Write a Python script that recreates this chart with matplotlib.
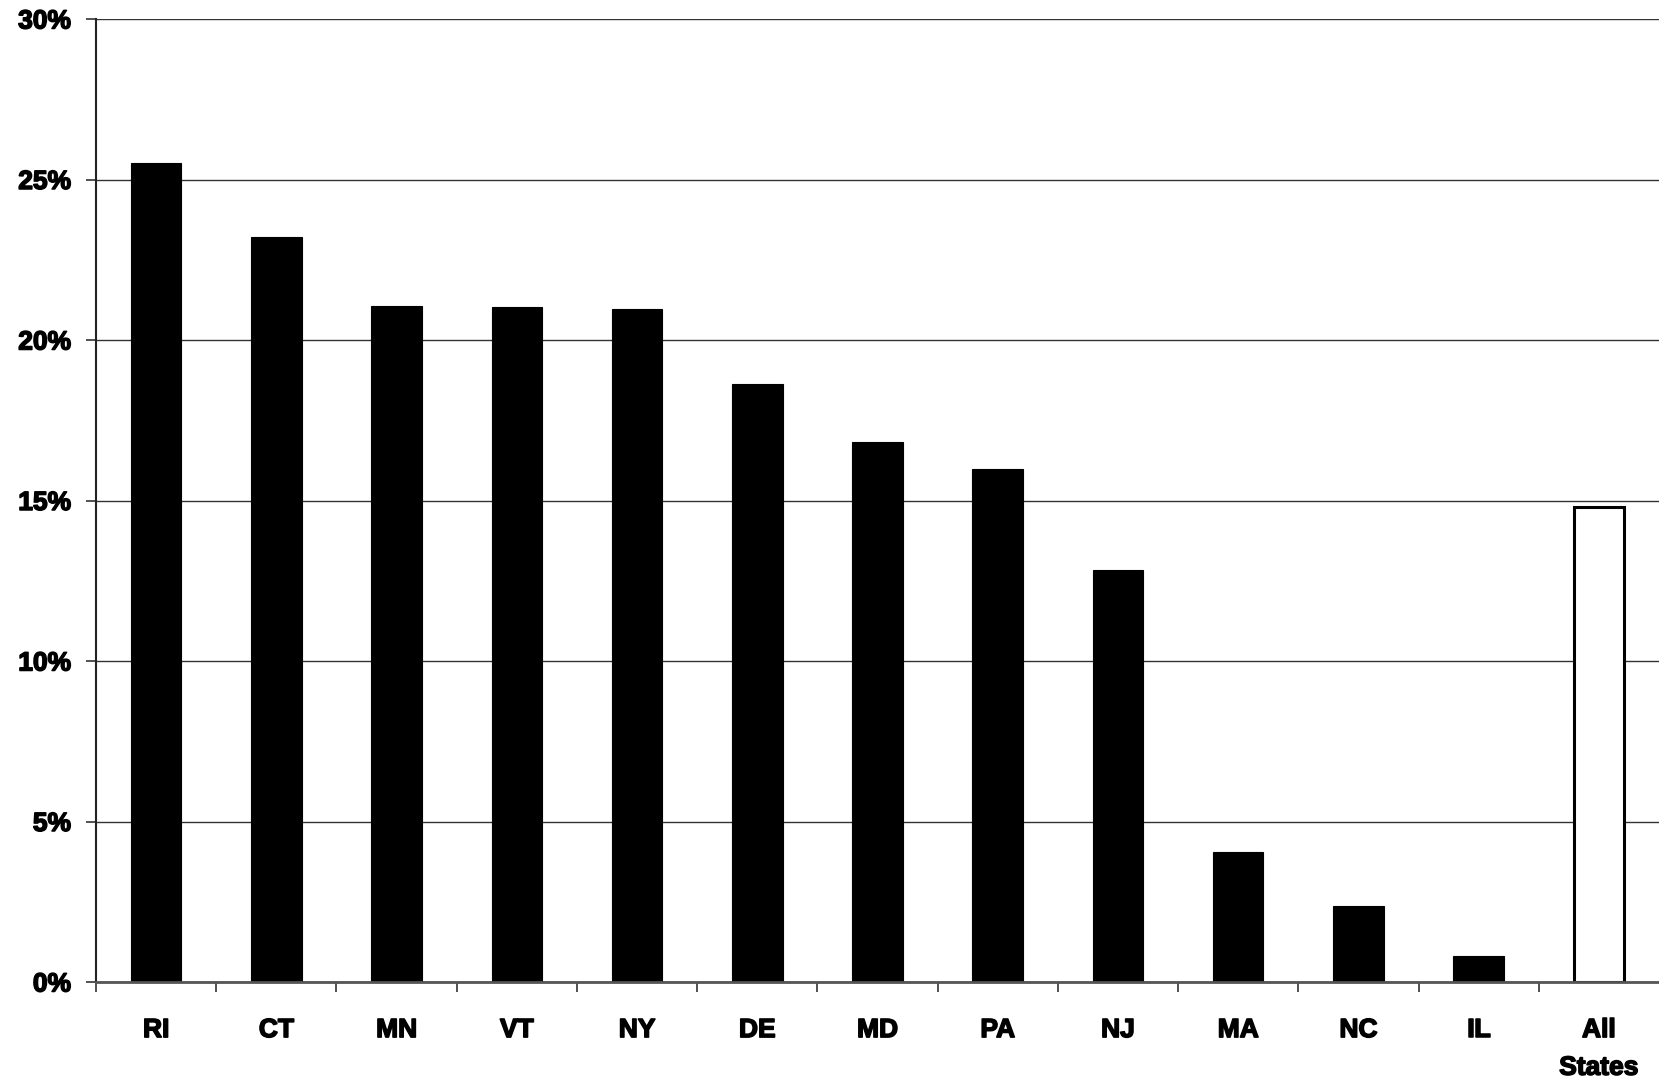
import matplotlib
matplotlib.use("Agg")
import matplotlib.pyplot as plt
import matplotlib.patheffects as pe
import numpy as np
from matplotlib.ticker import FixedLocator, PercentFormatter

categories = ["RI", "CT", "MN", "VT", "NY", "DE", "MD", "PA", "NJ", "MA", "NC", "IL", "All\nStates"]
values = [25.5, 23.2, 21.07, 21.03, 20.97, 18.63, 16.81, 15.99, 12.83, 4.06, 2.37, 0.82, 14.80]
yticks = [0, 5, 10, 15, 20, 25, 30]

plt.rcParams['font.family'] = ['Liberation Sans', 'DejaVu Sans']
FS = 19
heavy = [pe.withStroke(linewidth=1.1, foreground='black')]
fig = plt.figure(figsize=(16.59, 10.81), dpi=100)
ax = fig.add_axes([96/1659, 1 - 982/1081, 1 - 96/1659, (982 - 19)/1081])

x = np.arange(len(categories))
colors = ['black'] * (len(categories) - 1) + ['white']
ax.bar(x, values, width=0.42, color=colors, edgecolor='black', linewidth=[0.8] * (len(categories) - 1) + [2.2], zorder=3)

ax.set_xlim(-0.5, len(categories) - 0.5)
ax.set_ylim(0, 30)
ax.set_yticks(yticks)
ax.yaxis.set_major_formatter(PercentFormatter(decimals=0))
ax.grid(axis='y', color='#333333', linewidth=1.0, zorder=0)

ax.set_xticks(x)
ax.set_xticklabels(categories, fontsize=FS, fontweight='bold', linespacing=1.72, va='top')
ax.xaxis.set_minor_locator(FixedLocator(np.arange(-0.5, len(categories) - 0.5, 1.0)))
ax.tick_params(axis='x', which='major', length=0, pad=26)
ax.tick_params(axis='x', which='minor', length=7, width=1.2, color='#333333', direction='out')
ax.tick_params(axis='y', which='major', length=7, width=1.2, color='#333333', direction='out', pad=11, labelsize=FS)
for lab in ax.get_yticklabels() + ax.get_xticklabels():
    lab.set_fontweight('bold')
    lab.set_path_effects(heavy)

for s in ['top', 'right']:
    ax.spines[s].set_visible(False)
ax.spines['left'].set_color('#222222')
ax.spines['left'].set_linewidth(1.5)
ax.spines['bottom'].set_color('#555555')
ax.spines['bottom'].set_linewidth(2.0)
ax.spines['bottom'].set_zorder(4)

fig.savefig("out.png", dpi=100)
